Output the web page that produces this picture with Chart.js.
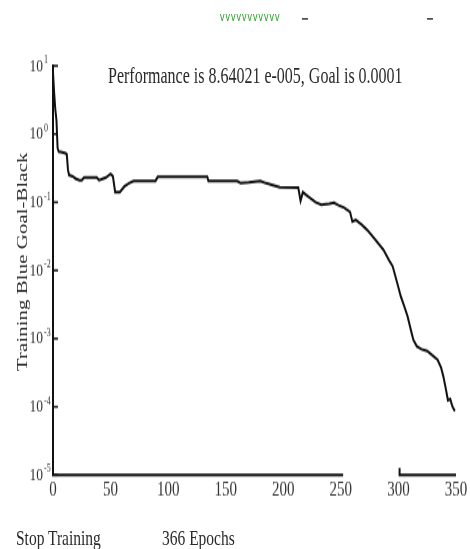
<!DOCTYPE html>
<html>
<head>
<meta charset="utf-8">
<script src="https://cdn.jsdelivr.net/npm/chart.js@4"></script>
<style>
  body { margin: 0; background: #fff; overflow: hidden; }
  #wrap { position: absolute; left: 0; top: 0; width: 470px; height: 392px; transform: scaleY(1.4); transform-origin: 0 0; }
  .txt { position: absolute; font-family: "Liberation Serif", serif; color: #2a2a2a; white-space: nowrap; line-height: 18px; }
  .mark { position: absolute; height: 1.5px; background: #1d2433; }
</style>
</head>
<body>
<div id="wrap">
  <canvas id="chart" width="470" height="392"></canvas>
  <div class="txt" style="left:220px;top:3px;font-family:'Liberation Sans',sans-serif;font-size:9px;letter-spacing:1px;color:#2f9a2f;">vvvvvvvvvvv</div>
  <div class="mark" style="left:302px;top:12.5px;width:6px;"></div>
  <div class="mark" style="left:427px;top:12.5px;width:6px;"></div>
  <div class="txt" style="left:108px;top:44.5px;font-size:16px;">Performance is 8.64021 e-005, Goal is 0.0001</div>
  <div class="txt" style="left:-128px;top:178px;width:300px;text-align:center;font-size:15px;transform:rotate(-90deg);">Training Blue Goal-Black</div>
  <div class="txt" style="left:16px;top:374.5px;font-size:15.5px;">Stop Training</div>
  <div class="txt" style="left:162px;top:374.5px;font-size:15.5px;">366 Epochs</div>
</div>
<script>
// training record
const epochs = [0, 1, 2, 3, 4, 5, 8, 11, 12, 13, 14, 17, 20, 23, 25, 27, 33, 38, 40, 43, 46, 50, 52, 54, 58, 62, 66, 70, 80, 89, 91, 110, 134, 135, 160, 163, 170, 180, 185, 190, 197, 213, 215, 217, 222, 228, 233, 240, 244, 248, 253, 258, 260, 263, 268, 273, 280, 287, 292, 295, 299, 302, 305, 308, 311, 313, 316, 320, 325, 330, 334, 337, 339, 341, 343, 345, 347, 349];
const performance = [8, 4, 2.3, 1.6, 0.62, 0.55, 0.54, 0.52, 0.5, 0.3, 0.25, 0.24, 0.22, 0.21, 0.21, 0.23, 0.23, 0.23, 0.21, 0.22, 0.23, 0.26, 0.24, 0.14, 0.14, 0.17, 0.19, 0.205, 0.205, 0.205, 0.235, 0.235, 0.235, 0.205, 0.205, 0.19, 0.195, 0.205, 0.19, 0.18, 0.165, 0.163, 0.105, 0.14, 0.12, 0.1, 0.092, 0.095, 0.098, 0.09, 0.083, 0.072, 0.052, 0.055, 0.047, 0.039, 0.028, 0.02, 0.014, 0.0115, 0.0065, 0.0042, 0.003, 0.0021, 0.0013, 0.00096, 0.00077, 0.0007, 0.00066, 0.00056, 0.00049, 0.00038, 0.00028, 0.00019, 0.000125, 0.00013, 0.0001, 0.0000864];

const xTickValues = [0, 50, 100, 150, 200, 250, 300, 350];
const yTickValues = [1e-5, 1e-4, 1e-3, 1e-2, 1e-1, 1, 10];
const yTickExponents = ['-5', '-4', '-3', '-2', '-1', '0', '1'];
// the x axis line is drawn in two pieces, as in the picture
const xAxisSegments = [[0, 252], [301, 350]];

const axisPlugin = {
  id: 'axisMarks',
  afterDraw(chart) {
    const { ctx, chartArea } = chart;
    const x = chart.scales.x;
    const y = chart.scales.y;
    ctx.save();
    ctx.strokeStyle = '#111';
    ctx.lineWidth = 1.5;
    ctx.fillStyle = '#333';
    ctx.font = '8px "Liberation Serif"';
    ctx.textAlign = 'left';
    ctx.textBaseline = 'middle';
    y.ticks.forEach((t, i) => {
      const py = y.getPixelForValue(t.value);
      ctx.beginPath();
      ctx.moveTo(chartArea.left, py);
      ctx.lineTo(chartArea.left + 5, py);
      ctx.stroke();
      // small raised exponent after the "10"
      ctx.fillText(yTickExponents[i], chartArea.left - 9, py - 4);
    });
    ctx.lineWidth = 2;
    const py = chartArea.bottom;
    xAxisSegments.forEach(([a, b], i) => {
      const pa = x.getPixelForValue(a);
      ctx.beginPath();
      if (i > 0) {
        ctx.moveTo(pa, py - 5);
        ctx.lineTo(pa, py);
      } else {
        ctx.moveTo(pa - 1, py);
      }
      ctx.lineTo(x.getPixelForValue(b), py);
      ctx.stroke();
    });
    ctx.restore();
  }
};

new Chart(document.getElementById('chart'), {
  type: 'line',
  data: {
    datasets: [{
      data: epochs.map((e, i) => ({ x: e, y: performance[i] })),
      borderColor: '#111',
      borderWidth: 2,
      pointRadius: 0,
      tension: 0,
      fill: false
    }]
  },
  options: {
    responsive: false,
    animation: false,
    layout: { padding: { left: 0, right: 14, top: 47, bottom: 0 } },
    plugins: { legend: { display: false }, tooltip: { enabled: false } },
    scales: {
      x: {
        type: 'linear',
        min: 0,
        max: 350,
        afterBuildTicks: s => { s.ticks = xTickValues.map(v => ({ value: v })); },
        afterFit: s => { s.height = 52.7; },
        grid: { display: false, drawTicks: false },
        border: { display: false },
        ticks: { font: { family: 'Liberation Serif', size: 15 }, color: '#333', padding: 2, autoSkip: false, maxRotation: 0, callback: v => String(v) }
      },
      y: {
        type: 'logarithmic',
        min: 1e-5,
        max: 10,
        afterBuildTicks: s => { s.ticks = yTickValues.map(v => ({ value: v })); },
        afterFit: s => { s.width = 53; },
        grid: { display: false, drawTicks: false },
        border: { display: true, color: '#111', width: 2 },
        ticks: { font: { family: 'Liberation Serif', size: 13.5 }, color: '#333', padding: 10, autoSkip: false, callback: () => '10' }
      }
    }
  },
  plugins: [axisPlugin]
});
</script>
</body>
</html>
